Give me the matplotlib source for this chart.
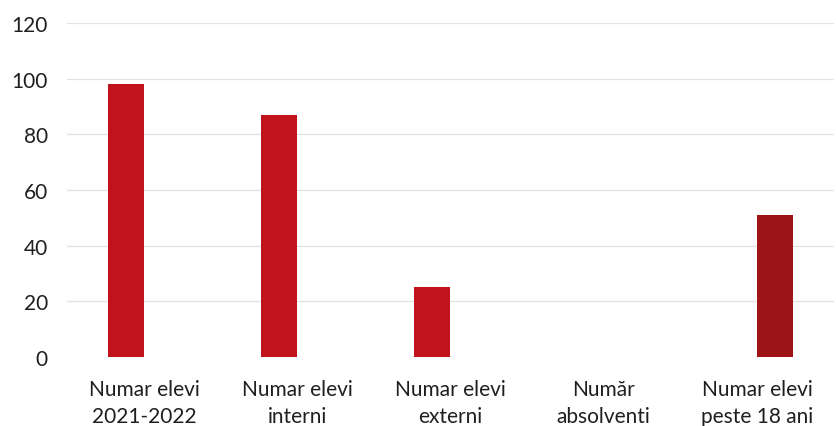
import matplotlib
matplotlib.use("Agg")
import matplotlib.pyplot as plt
import numpy as np

categories = ["Numar elevi\n2021-2022", "Numar elevi\ninterni", "Numar elevi\nexterni",
              "Număr\nabsolventi", "Numar elevi\npeste 18 ani"]
# two series as in the original chart: the last category belongs to the second series
series1 = [98, 87, 25, 0, 0]
series2 = [0, 0, 0, 0, 51]
color1 = "#c0131b"
color2 = "#9e1419"
yticks = [0, 20, 40, 60, 80, 100, 120]

plt.rcParams['font.family'] = ['Lato', 'DejaVu Sans']

W, H = 837, 427
fig = plt.figure(figsize=(W/100, H/100), dpi=100)
left, right, bottom, top = 67.4, 833.6, 358, 24
ax = fig.add_axes([left/W, 1 - bottom/H, (right-left)/W, (bottom-top)/H])

x = np.arange(len(categories))
bw = 0.235
ax.bar(x - bw/2, series1, width=bw, color=color1, zorder=3)
ax.bar(x + bw/2, series2, width=bw, color=color2, zorder=3)

ax.set_xlim(-0.5, 4.5)
ax.set_ylim(0, 120)
ax.set_yticks(yticks)
ax.set_xticks(x)
ax.set_xticklabels(categories, fontsize=15, color="#1f1f1f", linespacing=1.45)
ax.tick_params(axis='y', labelsize=15, labelcolor="#1f1f1f", length=0, pad=14)
ax.tick_params(axis='x', length=0, pad=16)
ax.grid(axis='y', color="#e2e2e2", linewidth=0.9, zorder=0)
for s in ax.spines.values():
    s.set_visible(False)

fig.savefig("out.png", dpi=100)
